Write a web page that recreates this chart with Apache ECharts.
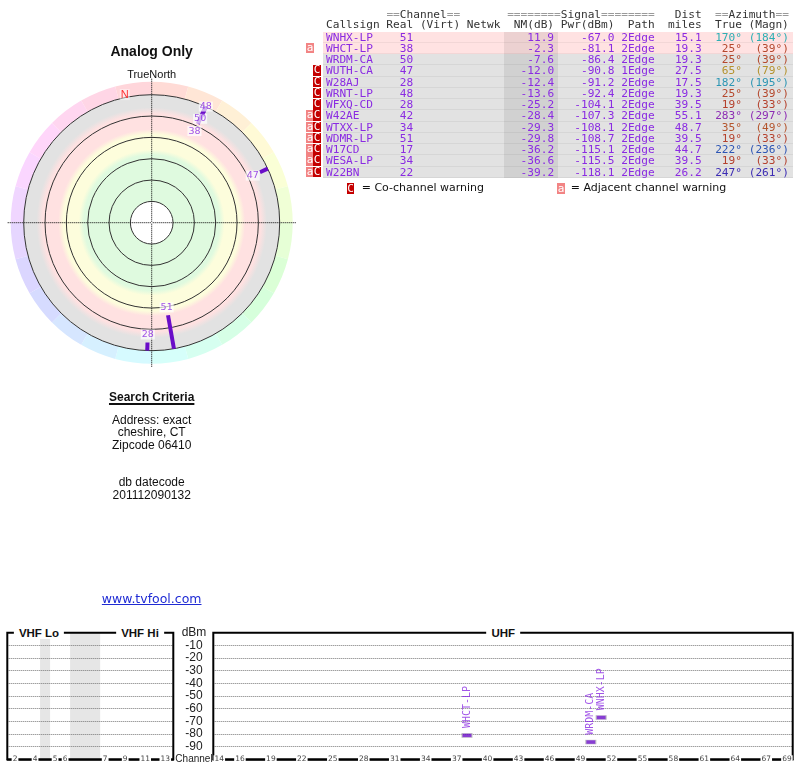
<!DOCTYPE html>
<html>
<head>
<meta charset="utf-8">
<title>Analog Only</title>
<script src="https://cdn.jsdelivr.net/npm/echarts@6/dist/echarts.min.js"></script>
<style>
  body { margin: 0; background: #fff; width: 800px; height: 768px; position: relative; overflow: hidden; }
  #chart { position: absolute; left: 0; top: 0; width: 800px; height: 768px; }
  .t { position: absolute; white-space: pre; pointer-events: none; }
  .sans { font-family: "Liberation Sans", Arial, sans-serif; color: #111; }
  .ctr { width: 240px; left: 31.7px; text-align: center; }
  .mono { font-family: "DejaVu Sans Mono", monospace; font-size: 11.15px; line-height: 11.25px; }
  .box { position: absolute; color: #fff; text-align: center; font-family: "DejaVu Sans Mono", monospace; font-size: 11px; line-height: 10.5px; height: 10.5px; }
  .band { position: absolute; background: #fff; padding: 0 5px; font: bold 11.5px "Liberation Sans", Arial, sans-serif; line-height: 12px; color: #111; transform: translate(-50%, -50%); }
</style>
</head>
<body>
<div id="chart"></div>

<div class="t sans ctr" style="top:43px;font-size:14px;font-weight:bold;line-height:17px;">Analog Only</div>
<div class="t sans ctr" style="top:67px;font-size:11px;line-height:14px;">TrueNorth</div>

<div class="t sans ctr" style="top:390px;font-size:12px;font-weight:bold;line-height:15px;"><span style="text-decoration:underline;text-decoration-thickness:1.5px;text-underline-offset:2px;">Search Criteria</span></div>
<div class="t sans ctr" style="top:413.5px;font-size:12px;line-height:12.5px;">Address: exact
cheshire, CT
Zipcode 06410


db datecode
201112090132</div>
<div class="t ctr" style="top:590.5px;font-family:'DejaVu Sans',sans-serif;font-size:12.5px;line-height:15px;color:#1f2bd4;"><span style="text-decoration:underline;">www.tvfool.com</span></div>

<div class="band" style="left:39px;top:632.7px;">VHF Lo</div>
<div class="band" style="left:140px;top:632.7px;">VHF Hi</div>
<div class="band" style="left:503.3px;top:632.7px;">UHF</div>

<div id="table"></div>

<script>
// station list (rows of the table)
var callsigns = ['WNHX-LP', 'WHCT-LP', 'WRDM-CA', 'WUTH-CA', 'W28AJ', 'WRNT-LP', 'WFXQ-CD',
                 'W42AE', 'WTXX-LP', 'WDMR-LP', 'W17CD', 'WESA-LP', 'W22BN'];
var realCh = [51, 38, 50, 47, 28, 48, 28, 42, 34, 51, 17, 34, 22];
var nmDb = [11.9, -2.3, -7.6, -12.0, -12.4, -13.6, -25.2, -28.4, -29.3, -29.8, -36.2, -36.6, -39.2];
var pwrDbm = [-67.0, -81.1, -86.4, -90.8, -91.2, -92.4, -104.1, -107.3, -108.1, -108.7, -115.1, -115.5, -118.1];
var pathType = ['2Edge', '2Edge', '2Edge', '1Edge', '2Edge', '2Edge', '2Edge',
                '2Edge', '2Edge', '2Edge', '2Edge', '2Edge', '2Edge'];
var distMiles = [15.1, 19.3, 19.3, 27.5, 17.5, 19.3, 39.5, 55.1, 48.7, 39.5, 44.7, 39.5, 26.2];
var azTrue = [170, 25, 25, 65, 182, 25, 19, 283, 35, 19, 222, 19, 247];
var azMagn = [184, 39, 39, 79, 195, 39, 33, 297, 49, 33, 236, 33, 261];
var warnFlags = ['', 'a', '', 'C', 'C', 'C', 'C', 'aC', 'aC', 'aC', 'aC', 'aC', 'aC'];

// spectrum axis ticks
var vhfTickChannels = [2, 4, 5, 6, 7, 9, 11, 13];
var uhfTickChannels = [14, 16, 19, 22, 25, 28, 31, 34, 37, 40, 43, 46, 49, 52, 55, 58, 61, 64, 67, 69];

var PURPLE = '#8a2be2';
var BAR = '#6a0dc8';
var DEG = '\u00b0';

// azimuth -> text colour, roughly following the colour wheel round the plot
function azColor(b) {
  var pts = [[0, 0], [30, 14], [65, 45], [120, 120], [175, 188], [220, 220], [360, 360]];
  var h = 0;
  for (var i = 1; i < pts.length; i++) {
    if (b <= pts[i][0]) {
      var a = pts[i - 1], c = pts[i];
      h = a[1] + (b - a[0]) / (c[0] - a[0]) * (c[1] - a[1]);
      break;
    }
  }
  return 'hsl(' + h.toFixed(0) + ',60%,44%)';
}

// ---------- table ----------
!(function() {
  var X0 = 326, ROW_TOP = 31.7, ROW_H = 11.25;
  var out = '';

  function Line() { this.col = 0; this.html = ''; }
  Line.prototype.put = function(text, endCol, color) {
    var s = endCol - text.length - this.col;
    if (s > 0) this.html += new Array(s + 1).join(' ');
    this.html += '<span style="color:' + color + '">' + text + '</span>';
    this.col = endCol;
    return this;
  };
  function hdr(text, endCol, line) {
    // '=' drawn grey, words dark
    var h = text.replace(/(=+)/g, '<span style="color:#9a9a9a">$1</span>');
    var s = endCol - text.length - line.col;
    if (s > 0) line.html += new Array(s + 1).join(' ');
    line.html += h;
    line.col = endCol;
  }

  var h1 = new Line();
  hdr('==Channel==', 20, h1);
  hdr('========Signal========', 49, h1);
  hdr('Dist', 56, h1);
  hdr('==Azimuth==', 69, h1);
  var h2 = new Line();
  ['Callsign', 'Real', '(Virt)', 'Netwk', 'NM(dB)', 'Pwr(dBm)', 'Path', 'miles', 'True', '(Magn)']
    .forEach(function(w, k) { hdr(w, [8, 13, 20, 26, 34, 43, 49, 56, 62, 69][k], h2); });

  out += '<div class="t mono" style="left:' + X0 + 'px;top:10px;line-height:10px;color:#333">' + h1.html + '</div>';
  out += '<div class="t mono" style="left:' + X0 + 'px;top:20px;line-height:10px;color:#333">' + h2.html + '</div>';

  callsigns.forEach(function(cs, i) {
    var top = ROW_TOP + i * ROW_H;
    var bg = nmDb[i] > -5 ? '#ffe2e2' : '#e2e2e2';
    out += '<div style="position:absolute;left:323.3px;width:469.4px;top:' + top + 'px;height:' + (ROW_H - 1) +
      'px;background:' + bg + ';border-bottom:1px solid rgba(0,0,0,0.05)"></div>';
    var ln = new Line();
    var az = azColor(azTrue[i]);
    ln.put(cs, cs.length, PURPLE)
      .put(String(realCh[i]), 13, PURPLE)
      .put(nmDb[i].toFixed(1), 34, PURPLE)
      .put(pwrDbm[i].toFixed(1), 43, PURPLE)
      .put(pathType[i], 49, PURPLE)
      .put(distMiles[i].toFixed(1), 56, PURPLE)
      .put(azTrue[i] + DEG, 62, az)
      .put('(' + azMagn[i] + DEG + ')', 69, az);
    out += '<div class="t mono" style="left:' + X0 + 'px;top:' + top + 'px;z-index:2">' + ln.html + '</div>';

    var f = warnFlags[i];
    if (f.indexOf('a') >= 0)
      out += '<div class="box" style="left:306px;width:8px;top:' + top + 'px;background:#f28484">a</div>';
    if (f.indexOf('C') >= 0)
      out += '<div class="box" style="left:313px;width:8px;top:' + top + 'px;background:#c40000">C</div>';
  });
  // darker NM column
  out += '<div style="position:absolute;left:504px;width:54.3px;top:' + ROW_TOP + 'px;height:' +
    (ROW_H * callsigns.length) + 'px;background:rgba(0,0,0,0.075);z-index:1"></div>';

  // legend
  out += '<div class="box" style="left:346.7px;width:7.5px;top:182.5px;height:11px;line-height:11px;background:#c40000">C</div>';
  out += '<div class="t" style="left:361.7px;top:181px;font:11px \'DejaVu Sans\',sans-serif;line-height:13px;color:#111">= Co-channel warning</div>';
  out += '<div class="box" style="left:557.3px;width:7.5px;top:182.5px;height:11px;line-height:11px;background:#f28484">a</div>';
  out += '<div class="t" style="left:570.7px;top:181px;font:11px \'DejaVu Sans\',sans-serif;line-height:13px;color:#111">= Adjacent channel warning</div>';

  document.getElementById('table').innerHTML = out;
})();

// ---------- charts ----------
!(function(echarts) {
  var chart = echarts.init(document.getElementById('chart'));
  var PC = [151.7, 222.7];
  var R_MIN = -35, R_MAX = 100;
  var PX_PER = 128 / 120;                  // px per dB on the radius axis
  var R_OUT = (R_MAX - R_MIN) * PX_PER;    // polar radius (value -35)

  function pxOf(v) { return (R_MAX - v) * PX_PER; }
  function valOf(px) { return R_MAX - px / PX_PER; }

  // ring circles every 20 dB from -20 to 80, other ticks hidden
  var ringColors = [];
  for (var v = R_MIN; v <= R_MAX; v += 5) {
    ringColors.push(v % 20 === 0 && v >= -20 && v <= 80 ? '#333' : 'rgba(0,0,0,0)');
  }

  // colour wheel round the plot
  var wheel = [];
  for (var k = 0; k < 24; k++) {
    wheel.push({ value: 1, itemStyle: { color: 'hsl(' + (k * 15 + 7.5) + ',100%,92%)' } });
  }

  // stations shown on the polar plot
  var polarIdx = [];
  nmDb.forEach(function(v, i) { if (v > -20) polarIdx.push(i); });

  var barSeries = polarIdx.map(function(i) {
    return {
      type: 'line', coordinateSystem: 'polar', silent: true, z: 10,
      symbol: 'none',
      lineStyle: { color: BAR, width: 4, cap: 'butt' },
      data: [[nmDb[i], azTrue[i]], [-20, azTrue[i]]]
    };
  });

  // label positions: 8px inside bar tip, pushed apart when on same bearing
  var byAz = {};
  polarIdx.forEach(function(i) { (byAz[azTrue[i]] = byAz[azTrue[i]] || []).push(i); });
  var labelData = [];
  Object.keys(byAz).forEach(function(az) {
    var list = byAz[az].sort(function(a, b) { return pxOf(nmDb[a]) - pxOf(nmDb[b]); });
    var prev = -100;
    list.forEach(function(i) {
      var px = Math.max(pxOf(nmDb[i]) - 8, prev + 13.5);
      prev = px;
      labelData.push([valOf(px), azTrue[i], String(realCh[i])]);
    });
  });

  var decl = azMagn[0] - azTrue[0];

  function vhfSlot(ch) { return ch <= 4 ? ch - 2 : ch <= 6 ? ch - 1 : ch + 2; }
  var vhfTickVals = vhfTickChannels.map(function(c) { return vhfSlot(c) + 0.5; });

  var specIdx = [];
  nmDb.forEach(function(v, i) { if (v > -10) specIdx.push(i); });

  var gridBase = {
    top: 632.7, height: 126.6, show: true, borderColor: '#000', borderWidth: 2,
    backgroundColor: 'rgba(0,0,0,0)', z: 4, outerBoundsMode: 'none'
  };
  var yBase = {
    type: 'value', min: -100, max: 0, interval: 10, z: 3,
    axisLine: { show: false }, axisTick: { show: false },
    splitLine: { show: true, lineStyle: { color: '#777', type: 'dotted', width: 1 } }
  };
  var xLabel = {
    fontSize: 7.5, color: '#444', margin: -4, backgroundColor: '#fff', padding: [0, 1],
    fontFamily: 'DejaVu Sans'
  };
  var xBase = {
    type: 'value', z: 5, splitLine: { show: false }, axisTick: { show: false },
    axisLine: { show: true, onZero: false, lineStyle: { color: '#000', width: 1.5 } }
  };

  var option = {
    animation: false,
    polar: { center: PC, radius: R_OUT },
    angleAxis: {
      type: 'value', min: 0, max: 360, interval: 90, startAngle: 90, clockwise: true, z: 5,
      axisLine: { show: false }, axisTick: { show: false }, axisLabel: { show: false },
      splitLine: { show: true, lineStyle: { color: '#000', type: 'dotted', width: 1 } }
    },
    radiusAxis: {
      type: 'value', min: R_MIN, max: R_MAX, interval: 5, inverse: true, z: 5,
      axisLine: { show: false }, axisTick: { show: false }, axisLabel: { show: false },
      splitLine: { show: true, lineStyle: { width: 1, color: ringColors } }
    },
    grid: [
      Object.assign({ left: 7.3, width: 166 }, gridBase),
      Object.assign({ left: 213.3, width: 579.4 }, gridBase)
    ],
    xAxis: [
      Object.assign({
        gridIndex: 0, min: -0.27, max: 16.3,
        axisLabel: Object.assign({
          customValues: vhfTickVals,
          formatter: function(v) { return vhfTickChannels[vhfTickVals.indexOf(v)]; }
        }, xLabel)
      }, xBase),
      Object.assign({
        gridIndex: 1, min: 13.42, max: 69.56,
        axisLabel: Object.assign({ customValues: uhfTickChannels }, xLabel)
      }, xBase)
    ],
    yAxis: [
      Object.assign({ gridIndex: 0, axisLabel: { show: false } }, yBase),
      Object.assign({
        gridIndex: 1,
        axisLabel: {
          show: true, align: 'center', margin: 19.3, fontSize: 12, color: '#222',
          fontFamily: 'Liberation Sans',
          formatter: function(v) {
            if (v === 0) return 'dBm';
            if (v === -100) return '{c|Channel}';
            return String(v);
          },
          rich: { c: { fontSize: 10, fontFamily: 'Liberation Sans', color: '#222' } }
        }
      }, yBase)
    ],
    series: [
      {
        type: 'pie', center: PC, radius: [128, 141], z: 1, silent: true,
        startAngle: 90, clockwise: true, label: { show: false }, labelLine: { show: false },
        itemStyle: { borderWidth: 0 }, data: wheel
      },
      {
        type: 'pie', center: PC, radius: [pxOf(80), 128], z: 1, silent: true,
        label: { show: false }, labelLine: { show: false },
        itemStyle: {
          borderWidth: 0,
          color: {
            type: 'radial', x: PC[0], y: PC[1], r: 128, global: true,
            colorStops: [
              { offset: 0, color: '#dffadf' }, { offset: 0.53, color: '#dffadf' },
              { offset: 0.57, color: '#fdfddc' }, { offset: 0.69, color: '#fdfddc' },
              { offset: 0.73, color: '#ffe1e1' }, { offset: 0.85, color: '#ffe1e1' },
              { offset: 0.9, color: '#e2e2e2' }, { offset: 1, color: '#e2e2e2' }
            ]
          }
        },
        data: [{ value: 1 }]
      }
    ].concat(barSeries).concat([
      {
        type: 'scatter', coordinateSystem: 'polar', silent: true, z: 12,
        symbolSize: 1, itemStyle: { color: 'rgba(0,0,0,0)' },
        label: {
          show: true, position: 'inside', formatter: function(p) { return p.data[2]; },
          color: PURPLE, fontSize: 9.5, fontFamily: 'DejaVu Sans',
          backgroundColor: 'rgba(255,255,255,0.85)', padding: [0, 1]
        },
        data: labelData
      },
      {
        type: 'scatter', coordinateSystem: 'polar', silent: true, z: 12,
        symbolSize: 1, itemStyle: { color: 'rgba(0,0,0,0)' },
        label: {
          show: true, position: 'inside', formatter: 'N', offset: [5, 0],
          color: '#f00', fontSize: 11, fontFamily: 'Liberation Sans',
          backgroundColor: 'rgba(255,255,255,0.6)', padding: [0, 1]
        },
        data: [[valOf(132), 360 - decl]]
      },
      {
        type: 'scatter', xAxisIndex: 0, yAxisIndex: 0, z: 1, silent: true, data: [],
        markArea: {
          silent: true, itemStyle: { color: '#e6e6e6' },
          data: [
            [{ xAxis: vhfSlot(4) + 1 }, { xAxis: vhfSlot(5) }],
            [{ xAxis: vhfSlot(6) + 1 }, { xAxis: vhfSlot(7) }]
          ]
        }
      },
      {
        type: 'scatter', xAxisIndex: 1, yAxisIndex: 1, z: 10, silent: true,
        symbol: 'rect', symbolSize: [10, 4],
        itemStyle: { color: BAR, borderColor: '#c0c0c0', borderWidth: 0.8 },
        label: {
          show: true, position: 'top', distance: 5, rotate: 90, align: 'left', verticalAlign: 'middle',
          formatter: function(p) { return p.data[2]; },
          color: PURPLE, fontSize: 10, fontFamily: 'DejaVu Sans Mono'
        },
        data: specIdx.map(function(i) { return [realCh[i], pwrDbm[i], callsigns[i]]; })
      }
    ])
  };
  chart.setOption(option);
})(window.echarts);
</script>
</body>
</html>
